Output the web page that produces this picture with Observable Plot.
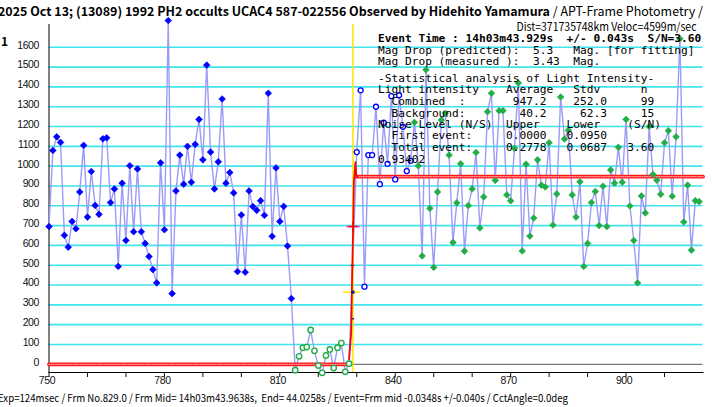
<!DOCTYPE html>
<html><head><meta charset="utf-8">
<script src="https://cdn.jsdelivr.net/npm/d3@7"></script>
<script src="https://cdn.jsdelivr.net/npm/@observablehq/plot@0.6"></script>
<style>
body{margin:0;background:#fff;}
#wrap{position:relative;width:712px;height:407px;overflow:hidden;background:#fff;}
.t{position:absolute;white-space:pre;line-height:1;color:#000;}
.m{position:absolute;white-space:pre;line-height:1;color:#000;font-family:"DejaVu Sans Mono",monospace;font-size:11.2px;left:378px;}
</style></head><body><div id="wrap"></div>
<script>
// ---- data ----
const preStart = 750;   // filled blue diamonds
const preValues = [695,1079,1148,1120,651,591,721,684,870,1105,743,973,802,757,1138,1143,816,885,494,914,
  625,1002,669,986,669,610,544,478,411,1017,679,1735,357,875,1056,909,1100,919,1110,1236,
  1032,1510,1071,885,1022,1339,914,968,865,468,754,465,875,796,777,826,752,1368,646,991,
  721,797,597,332];
const bgStart = 814;    // green open circles (background)
const bgValues = [-30,40,84,87,173,68,-6,-43,45,75,-19,84,107,-38,3];
const postStart = 830;  // blue open circles
const postValues = [1071,1383,392,1056,1056,1300,909,1219,1012,1354,933,1358,1199,975,1027];
const tailStart = 845;  // green filled diamonds
const tailValues = [1221,1002,547,1486,787,489,870,1233,1267,1056,615,815,1012,571,801,885,1069,688,845,1275,
  1368,928,1280,1280,855,825,1090,1420,572,1010,647,738,
  1032,904,895,1118,703,860,1349,1137,1181,855,743,921,494,610,816,872,700,899,695,981,914,1095,919,1236,
  799,625,411,850,764,1200,958,929,858,1118,1179,848,1148,1643,718,904,576,826,821];
// model (step) levels and fitted rise
const bottomLevel = 0, topLevel = 947.2;
const stepLowFrames = [750, 828.2], stepHighFrames = [829.9, 920];
const fitFrames = [828.0, 828.55, 828.8, 829.05, 829.25, 829.65, 829.85, 830.2];
const fitValues = [25, 160, 450, 685, 920, 1020, 955, 947];
const eventFrame = 829.0;
const halfLevel = 695, midBar = 364, errUpper = 499, errLower = 230;
const magentaBar = [827.4, 831.0], yellowBar = [826.6, 831.0];
// axes
const yTicks = [0,100,200,300,400,500,600,700,800,900,1000,1100,1200,1300,1400,1500,1600];
const gridValues = [100,200,300,400,500,600,700,800,900,1000,1100,1200,1300,1400,1500,1600];
const xLabelTicks = [750,780,810,840,870,900];
const xMinorTicks = [750,760,770,780,790,800,810,820,830,840,850,860,870,880,890,900,910];

const mk = (start, vals, g) => vals.map((v, i) => ({f: start + i, v, g}));
const pre = mk(preStart, preValues, "pre");
const bg = mk(bgStart, bgValues, "bg");
const post = mk(postStart, postValues, "post");
const tail = mk(tailStart, tailValues, "tail");
const all = [...pre, ...bg, ...post, ...tail].sort((a, b) => a.f - b.f);
const stepLow = stepLowFrames.map(f => ({f, v: bottomLevel}));
const stepHigh = stepHighFrames.map(f => ({f, v: topLevel}));
const fit = fitFrames.map((f, i) => ({f, v: fitValues[i]}));

const band = (data) => [
  Plot.line(data, {x: "f", y: "v", stroke: "#ff1a1a", strokeWidth: 3.8}),
  Plot.line(data, {x: "f", y: "v", stroke: "#ff9a9a", strokeWidth: 1.2, strokeDasharray: "1 1.4"})
];

const blue = "#0000ff", green = "#22ad48";
const chart = Plot.plot({
  width: 712, height: 407,
  marginLeft: 48.5, marginRight: 9.5, marginTop: 24, marginBottom: 35,
  x: {domain: [750, 920], label: null, axis: null},
  y: {domain: [-41.4, 1715], label: null, axis: null},
  style: {fontFamily: "'Liberation Sans', sans-serif", fontSize: "10.5px", color: "#111", background: "transparent", letterSpacing: "-0.4px"},
  marks: [
    Plot.ruleY(gridValues, {stroke: "#3ee4ee", strokeWidth: 1.6}),
    Plot.ruleY([0], {stroke: "#555", strokeWidth: 1}),
    Plot.axisY({ticks: yTicks, tickSize: 0, tickPadding: 10, dy: -2, tickFormat: "d", label: null}),
    Plot.axisX({ticks: xMinorTicks, tickSize: 5, tickFormat: () => "", label: null}),
    Plot.axisX({ticks: xLabelTicks, tickSize: 0, tickPadding: 4, dx: -2, tickFormat: "d", label: null}),
    Plot.ruleX([750], {stroke: "#000", strokeWidth: 1}),
    Plot.frame({anchor: "bottom", stroke: "#000"}),
    Plot.line(all, {x: "f", y: "v", stroke: "#9c9cf6", strokeWidth: 1.4}),
    Plot.ruleX([eventFrame], {stroke: "#ffe400", strokeWidth: 1.5}),
    ...band(stepLow),
    ...band(stepHigh),
    // error bars
    Plot.ruleY([halfLevel], {x1: magentaBar[0], x2: magentaBar[1], stroke: "#ff40ff", strokeWidth: 1.5}),
    Plot.ruleY([midBar], {x1: yellowBar[0], x2: yellowBar[1], stroke: "#ffe400", strokeWidth: 1.5}),
    Plot.ruleY([errUpper, errLower], {x1: eventFrame - 0.45, x2: eventFrame + 0.45, stroke: "#202080", strokeWidth: 1.5}),
    Plot.line(fit, {x: "f", y: "v", stroke: "#ff0000", strokeWidth: 1.8}),
    Plot.dot([{f: eventFrame, v: midBar}], {x: "f", y: "v", symbol: "square", fill: "#202080", r: 1.8}),
    Plot.dot([{f: eventFrame, v: halfLevel}], {x: "f", y: "v", symbol: "plus", stroke: "#ff0000", r: 3, strokeWidth: 1.5}),
    // data points
    Plot.dot(bg, {x: "f", y: "v", r: 2.7, stroke: green, strokeWidth: 1.4, fill: "white"}),
    Plot.dot(post, {x: "f", y: "v", r: 2.5, stroke: blue, strokeWidth: 1.3, fill: "white"}),
    Plot.dot(pre, {x: "f", y: "v", symbol: "diamond2", r: 3, fill: blue, stroke: blue, strokeWidth: 0.7}),
    Plot.dot(tail, {x: "f", y: "v", symbol: "diamond2", r: 3, fill: green, stroke: green, strokeWidth: 0.7})
  ]
});
const wrap = document.getElementById("wrap");
chart.style.position = "absolute"; chart.style.left = "0"; chart.style.top = "0";
wrap.appendChild(chart);

function place(html, o) {
  const d = document.createElement("div");
  d.className = "t";
  d.innerHTML = html;
  d.style.fontSize = o.size + "px";
  d.style.fontFamily = o.family || "'Noto Sans CJK JP', sans-serif";
  d.style.fontWeight = o.weight || "normal";
  d.style.top = (o.cy - o.size / 2) + "px";
  d.style.left = "0px";
  wrap.appendChild(d);
  const w = d.getBoundingClientRect().width;
  const s = o.width ? o.width / w : 1;
  if (o.right != null) { d.style.left = (o.right - w) + "px"; d.style.transformOrigin = "100% 50%"; }
  else { d.style.left = o.left + "px"; d.style.transformOrigin = "0 50%"; }
  d.style.transform = `scaleX(${s})`;
  return d;
}
place('<b>2025 Oct 13; (13089) 1992 PH2 occults UCAC4 587-022556 Observed by Hidehito Yamamura</b> / APT-Frame Photometry /',
  {left: -2, cy: 11, size: 12.5, width: 705});
place('Dist=371735748km Veloc=4599m/sec', {right: 697, cy: 26.5, size: 11.5, width: 180});
place('<b>1</b>', {left: 1, cy: 41, size: 12});
place('Exp=124msec / Frm No.829.0 / Frm Mid= 14h03m43.9638s,  End= 44.0258s / Event=Frm mid -0.0348s +/-0.040s / CctAngle=0.0deg',
  {left: -2, cy: 397, size: 11, width: 570});

const statLines = [
  ["Event Time : 14h03m43.929s  +/- 0.043s  S/N=3.60", 39, true],
  ["Mag Drop (predicted):  5.3   Mag. [for fitting]", 50.3],
  ["Mag Drop (measured ):  3.43  Mag.", 61.7],
  ["-Statistical analysis of Light Intensity-", 78.3],
  ["Light intensity    Average   Stdv      n", 90],
  ["  Combined  :       947.2    252.0     99", 101.7],
  ["  Background:        40.2     62.3     15", 113.3],
  ["Noise Level (N/S)  Upper    Lower    (S/N)", 124.7],
  ["  First event:     0.0000   0.0950", 136],
  ["  Total event:     0.2778   0.0687   3.60", 147.7],
  ["0.93402", 159.3]
];
for (const [txt, cy, bold] of statLines) {
  const d = document.createElement("div");
  d.className = "m";
  d.textContent = txt;
  d.style.top = (cy - 5.6) + "px";
  if (bold) d.style.fontWeight = "bold";
  wrap.appendChild(d);
}
</script></body></html>
